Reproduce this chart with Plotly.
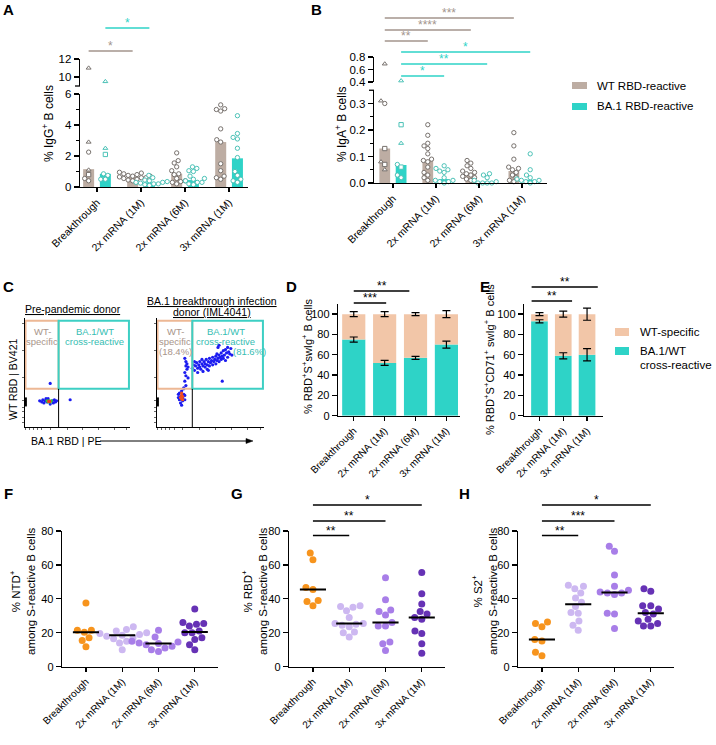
import math
import plotly.graph_objects as go

W, H = 716, 745
FONT = "Arial"

def fx(p):
    return p / W

def fy(p):
    return 1 - p / H

# ------------------------------------------------------------------ data
groups = ["Breakthrough", "2x mRNA (1M)", "2x mRNA (6M)", "3x mRNA (1M)"]
groups_e = ["Breakthrough", "2x mRNA (1M)", "3x mRNA (1M)"]

# Panel A  (% IgG+ B cells)
igg_wt_bar = [1.15, 0.65, 0.85, 2.9]
igg_ba1_bar = [0.85, 0.30, 0.45, 1.85]
igg_wt_pts = [
    [11.0, 2.9, 2.25, 1.1, 0.8, 0.55, 0.4],
    [0.95, 0.9, 0.85, 0.8, 0.75, 0.7, 0.65, 0.6, 0.55, 0.5, 0.45, 0.4, 0.6, 0.7],
    [2.2, 1.7, 1.55, 1.3, 1.05, 0.85, 0.8, 0.55, 0.4, 0.35, 0.3, 0.2],
    [5.3, 5.05, 5.0, 4.9, 3.75, 3.05, 2.9, 1.5, 1.05, 0.7, 0.6, 0.5],
]
igg_ba1_pts = [
    [9.5, 2.5, 2.1, 0.85, 0.75, 0.5, 0.5],
    [0.75, 0.6, 0.45, 0.4, 0.35, 0.3, 0.25, 0.2, 0.15, 0.1, 0.3, 0.2],
    [1.3, 1.2, 1.05, 1.0, 0.7, 0.55, 0.5, 0.4, 0.3, 0.3, 0.2, 0.15],
    [4.6, 3.45, 3.2, 3.1, 2.5, 1.9, 1.0, 0.75, 0.5, 0.4, 0.3],
]
igg_wt_bt_sym = ["triangle-up", "triangle-up", "circle", "triangle-up", "square", "circle", "circle"]
igg_ba1_bt_sym = ["triangle-up", "triangle-up", "square", "circle", "circle", "circle", "circle"]

# Panel B  (% IgA+ B cells)
iga_wt_bar = [0.13, 0.088, 0.04, 0.045]
iga_ba1_bar = [0.068, 0.015, 0.005, 0.012]
iga_wt_pts = [
    [0.69, 0.31, 0.30, 0.13, 0.08, 0.07, 0.05],
    [0.22, 0.18, 0.15, 0.14, 0.13, 0.11, 0.09, 0.085, 0.08, 0.06, 0.04, 0.03, 0.02, 0.01],
    [0.085, 0.075, 0.065, 0.055, 0.045, 0.04, 0.035, 0.03, 0.025, 0.02, 0.015, 0.01],
    [0.19, 0.14, 0.09, 0.06, 0.055, 0.05, 0.04, 0.03, 0.02, 0.01, 0.005],
]
iga_ba1_pts = [
    [0.42, 0.22, 0.15, 0.07, 0.06, 0.03, 0.02],
    [0.065, 0.055, 0.05, 0.045, 0.04, 0.02, 0.01, 0.005, 0.0, 0.005, 0.01],
    [0.035, 0.03, 0.02, 0.01, 0.005, 0.0, 0.0, 0.0, 0.0],
    [0.11, 0.05, 0.03, 0.02, 0.015, 0.01, 0.005, 0.0, 0.005, 0.01],
]
iga_wt_bt_sym = ["triangle-up", "triangle-up", "circle", "square", "triangle-up", "square", "triangle-up"]
iga_ba1_bt_sym = ["triangle-up", "square", "triangle-up", "circle", "square", "circle", "circle"]

# Panel C  (flow cytometry events, arbitrary 0-100 display units)
c_left_blue = [(14, 24), (16, 23), (17, 25), (18, 22), (19, 24), (20, 26), (21, 23), (26, 24), (27, 22),
               (28, 25), (29, 23), (30, 24), (24, 21), (22, 26), (24, 40), (43, 25)]
c_left_green = [(21, 24), (22, 23), (23, 24), (24, 23), (25, 24)]
c_left_red = [(22.5, 23.5), (23.5, 23.5)]
c_right_blue = [(26, 63), (27, 60), (27, 56), (28, 53), (26, 50), (27, 47), (29, 45), (26, 42), (27, 38),
                (25, 36), (28, 58), (29, 55),
                (33, 54), (34, 57), (35, 52), (36, 56), (37, 59), (38, 54), (38, 50), (39, 57), (40, 60),
                (40, 55), (41, 53), (42, 58), (43, 56), (43, 51), (44, 60), (45, 55), (45, 58), (46, 62),
                (47, 57), (47, 53), (48, 60), (49, 56), (49, 63), (50, 59), (51, 61), (52, 57), (52, 64),
                (53, 60), (54, 62), (55, 58), (55, 65), (56, 61), (56, 67), (57, 63), (58, 60), (58, 66),
                (59, 64), (60, 68), (60, 62), (61, 65), (62, 70), (62, 63), (63, 66), (64, 71), (64, 61),
                (65, 68), (66, 73), (66, 64), (67, 69), (68, 67), (69, 72), (70, 66), (58, 75), (57, 73),
                (48, 52), (42, 62), (35, 60), (61, 42),
                (20, 30), (21, 25), (22, 28), (23, 33), (24, 24), (25, 30), (22, 22), (24, 27), (26, 25),
                (21, 31), (25, 35), (23, 20), (26, 29), (20, 27)]
c_right_red = [(23, 26), (24, 28), (23, 29), (24, 25), (22, 27), (23, 31)]

# Panel D  (% of RBD+S+swIg+ B cells)
d_cross = [75, 52, 57, 70]
d_cross_err = [2.5, 2.5, 1.5, 3.5]
d_total_err = [2.5, 2.5, 1.5, 3.5]

# Panel E  (% of RBD+S+CD71+ swIg+ B cells)
e_cross = [93, 59, 60]
e_cross_err = [1.5, 3.0, 6.0]
e_total_err = [1.5, 3.0, 6.0]

# Panels F-H  (% among S-reactive B cells)
ntd = [
    [37.5, 21.5, 21.5, 20.3, 17, 15.5, 11.8],
    [23.5, 22, 21, 20, 19.5, 19, 18.5, 18, 17, 16.5, 15, 14, 10],
    [21.5, 17.5, 15, 14.5, 14, 13.7, 13, 12, 11, 10, 9],
    [34, 26, 25.5, 25, 24, 21, 20, 20, 17, 16, 13, 10],
]
rbd = [
    [67, 63, 46.7, 45.5, 39, 38.5, 36],
    [36, 35.5, 35, 33, 29, 25.5, 25.5, 25, 24.5, 23.5, 20.5, 20, 17.5],
    [52.5, 39.5, 33.5, 32.5, 30.5, 26, 24, 24, 14.5, 13.5, 9.5],
    [55.5, 43, 37, 32.5, 31, 29, 28, 21, 19.5, 13.5, 8],
]
s2 = [
    [26.3, 25.5, 23.5, 16, 15.2, 8.5, 6.5],
    [48, 47.5, 46, 43.5, 40.5, 38, 35.5, 32, 31.5, 27, 24.5, 21.5],
    [71, 68, 54, 47.5, 45, 44, 43.5, 43.5, 42.5, 31.5, 31, 22.5],
    [46, 44.5, 36, 36, 34, 32, 31, 28, 27, 25.5, 24, 24],
]

# significance brackets: (series, start, end, label)
sig_a = [("wt", 0, 1, "*"), ("ba1", 0, 1, "*")]
sig_b = [("wt", 0, 3, "***"), ("wt", 0, 2, "****"), ("wt", 0, 1, "**"),
         ("ba1", 0, 3, "*"), ("ba1", 0, 2, "**"), ("ba1", 0, 1, "*")]
sig_d = [(0, 1, "***"), (0, 2, "**")]
sig_e = [(0, 1, "**"), (0, 2, "**")]
sig_g = [(0, 1, "**"), (0, 2, "**"), (0, 3, "*")]
sig_h = [(0, 1, "**"), (0, 2, "***"), (0, 3, "*")]

# ------------------------------------------------------------------ style
WT_BAR = "#BDADA3"
BA_BAR = "#2ED3C7"
WT_DOT = "#77716D"
BA_DOT = "#4CC2B7"
WT_SIG = "#A3958D"
TEAL = "#2ED3C7"
PEACH = "#F2C6A8"
GCOL = ["#F7941D", "#CDB8F1", "#A87EE8", "#6632B5"]

fig = go.Figure()
shapes = []
anns = []


def ann(text, x, y, size=11, color="black", angle=0, xanchor="center", yanchor="middle",
        align="center", weight="normal", under=False):
    font = dict(family=FONT, size=size, color=color, weight=weight)
    if under:
        font["lineposition"] = "under"
    anns.append(dict(text=text, x=fx(x), y=fy(y), xref="paper", yref="paper",
                     showarrow=False, textangle=angle, xanchor=xanchor, yanchor=yanchor, align=align,
                     font=font))


def lines(texts, x, y0, step, **kw):
    for k, t in enumerate(texts):
        ann(t, x, y0 + k * step, **kw)


def swarm(vals, ppu, d):
    placed = []
    out = [0.0] * len(vals)
    for i in sorted(range(len(vals)), key=lambda k: vals[k]):
        y = vals[i] * ppu
        cands = [0.0]
        for yo, xo in placed:
            dy = abs(y - yo)
            if dy < d:
                dx = math.sqrt(d * d - dy * dy)
                cands += [xo + dx, xo - dx]
        cands.sort(key=lambda c: (abs(c), c))
        for c in cands:
            if all((c - xo) ** 2 + (y - yo) ** 2 >= d * d - 1e-6 for yo, xo in placed):
                out[i] = c
                break
        placed.append((y, out[i]))
    return out


def xax(x0, x1, rng, anchor, tickvals=None, ticktext=None, visible=True, size=10.5, labels=True):
    d = dict(domain=[fx(x0), fx(x1)], range=rng, anchor=anchor, showline=True, linecolor="black",
             linewidth=1.3, ticks="outside", ticklen=4, tickwidth=1.3, tickcolor="black", showgrid=False,
             zeroline=False, tickangle=-45, fixedrange=True, automargin=False, showticklabels=labels,
             tickfont=dict(family=FONT, size=size, color="black"))
    if tickvals is not None:
        d.update(tickmode="array", tickvals=tickvals)
        if ticktext is not None:
            d["ticktext"] = ticktext
    if not visible:
        d = dict(domain=[fx(x0), fx(x1)], range=rng, anchor=anchor, visible=False, fixedrange=True,
                 automargin=False)
    return d


def yax(top, bot, rng, anchor, tickvals, ticktext=None, minor=None, size=11.5, labels=True):
    d = dict(domain=[fy(bot), fy(top)], range=rng, anchor=anchor, showline=True, linecolor="black",
             linewidth=1.3, ticks="outside", ticklen=5, tickwidth=1.3, tickcolor="black", showgrid=False,
             zeroline=False, fixedrange=True, tickmode="array", tickvals=tickvals, automargin=False,
             showticklabels=labels,
             tickfont=dict(family=FONT, size=size, color="black"))
    if labels:
        d["ticktext"] = ticktext if ticktext is not None else [str(v) for v in tickvals]
    if minor is not None:
        d["minor"] = dict(tickmode="array", tickvals=minor, ticks="outside", ticklen=3, tickwidth=1.1,
                          tickcolor="black", showgrid=False)
    return d


def dotbar(xa_lo, ya_lo, xa_hi, ya_hi, wt_bar, ba1_bar, wt_pts, ba1_pts, wt_sym0, ba1_sym0,
           brk, ppu_lo, ppu_hi, hi_base, cat_px, off):
    series = [(wt_bar, wt_pts, wt_sym0, -off, WT_BAR, WT_DOT), (ba1_bar, ba1_pts, ba1_sym0, off, BA_BAR, BA_DOT)]
    for bars, pts, sym0, o, bcol, lcol in series:
        fig.add_trace(go.Bar(x=[i + o for i in range(len(bars))], y=bars, width=0.25,
                             marker=dict(color=bcol, line=dict(width=0)), xaxis=xa_lo, yaxis=ya_lo))
    for bars, pts, sym0, o, bcol, lcol in series:
        for i, vals in enumerate(pts):
            syms = sym0 if i == 0 else ["circle"] * len(vals)
            lo = [(v, s) for v, s in zip(vals, syms) if v <= brk]
            hi = [(v, s) for v, s in zip(vals, syms) if v > brk]
            for part, xa, ya, ppu, base in [(lo, xa_lo, ya_lo, ppu_lo, 0), (hi, xa_hi, ya_hi, ppu_hi, hi_base)]:
                if not part:
                    continue
                vv = [p[0] for p in part]
                offs = swarm([v - base for v in vv], ppu, 4.6)
                fig.add_trace(go.Scatter(
                    x=[i + o + q / cat_px for q in offs], y=vv, mode="markers", cliponaxis=False,
                    marker=dict(symbol=[p[1] for p in part], size=4.3, color="white",
                                line=dict(color=lcol, width=1)),
                    xaxis=xa, yaxis=ya))


def stacked(xa, ya, cross, cross_err, tot_err, width):
    xs = list(range(len(cross)))
    fig.add_trace(go.Bar(x=xs, y=cross, width=width, marker=dict(color=TEAL, line=dict(width=0)),
                         xaxis=xa, yaxis=ya))
    fig.add_trace(go.Bar(x=xs, y=[100 - c for c in cross], base=cross, width=width,
                         marker=dict(color=PEACH, line=dict(width=0)), xaxis=xa, yaxis=ya))
    fig.add_trace(go.Scatter(x=xs + xs, y=cross + [100] * len(cross), mode="markers",
                             marker=dict(size=1, opacity=0),
                             error_y=dict(type="data", array=cross_err + tot_err, color="black",
                                          thickness=1.2, width=4),
                             xaxis=xa, yaxis=ya))


def median(v):
    s = sorted(v)
    n = len(s)
    return s[n // 2] if n % 2 else (s[n // 2 - 1] + s[n // 2]) / 2


def dotplot(xa, ya, data, cat_px, ppu):
    for i, vals in enumerate(data):
        offs = swarm(vals, ppu, 7.3)
        fig.add_trace(go.Scatter(x=[i + q / cat_px for q in offs], y=vals, mode="markers", cliponaxis=False,
                                 marker=dict(size=7, color=GCOL[i], line=dict(width=0)),
                                 xaxis=xa, yaxis=ya))
        m = median(vals)
        shapes.append(dict(type="line", xref=xa, yref=ya, x0=i - 0.36, x1=i + 0.36, y0=m, y1=m,
                           line=dict(color="black", width=2)))


def sigline(xref, x0, x1, ypx, label, color, size=12):
    shapes.append(dict(type="line", xref=xref, yref="paper", x0=x0, x1=x1, y0=fy(ypx), y1=fy(ypx),
                       line=dict(color=color, width=1.6)))
    anns.append(dict(text=label, x=(x0 + x1) / 2, y=fy(ypx - 5), xref=xref, yref="paper", showarrow=False,
                     xanchor="center", yanchor="middle", font=dict(family=FONT, size=size, color=color)))


def cap(xpx, ypx):
    shapes.append(dict(type="line", xref="paper", yref="paper", x0=fx(xpx - 5), x1=fx(xpx), y0=fy(ypx),
                       y1=fy(ypx), line=dict(color="black", width=1.3)))


# ------------------------------------------------------------------ panel A
A_CAT = 44.0
dotbar("x", "y", "x2", "y2", igg_wt_bar, igg_ba1_bar, igg_wt_pts, igg_ba1_pts, igg_wt_bt_sym, igg_ba1_bt_sym,
       6, 93 / 6, 9.0, 9, A_CAT, 0.19)
A_Y = {"wt": 51, "ba1": 28}
for s, a, b, lab in sig_a:
    o = -0.19 if s == "wt" else 0.19
    sigline("x", a + o, b + o, A_Y[s], lab, WT_SIG if s == "wt" else TEAL)
cap(80, 86)

# ------------------------------------------------------------------ panel B
B_CAT = 43.0
dotbar("x3", "y3", "x4", "y4", iga_wt_bar, iga_ba1_bar, iga_wt_pts, iga_ba1_pts, iga_wt_bt_sym, iga_ba1_bt_sym,
       0.35, 265.0, 62.5, 0.4, B_CAT, 0.19)
B_Y = [18, 30, 41, 52, 64, 76]
for (s, a, b, lab), ypx in zip(sig_b, B_Y):
    o = -0.19 if s == "wt" else 0.19
    sigline("x3", a + o, b + o, ypx, lab, WT_SIG if s == "wt" else TEAL)
cap(374, 90.25)

# legend A/B
for (lab, col, ypx) in [("WT RBD-reactive", WT_BAR, 85.5), ("BA.1 RBD-reactive", BA_BAR, 106.5)]:
    shapes.append(dict(type="rect", xref="paper", yref="paper", x0=fx(572), x1=fx(587), y0=fy(ypx + 3.5),
                       y1=fy(ypx - 3.5), fillcolor=col, line=dict(width=0)))
    ann(lab, 595, ypx, size=11.5, xanchor="left")

# ------------------------------------------------------------------ panel C
for xa, ya, pts, col in [("x5", "y5", c_left_blue, "#1C1CF0"), ("x5", "y5", c_left_green, "#2FCB3A"),
                         ("x5", "y5", c_left_red, "#F03A1A"),
                         ("x6", "y6", c_right_blue, "#1C1CF0"), ("x6", "y6", c_right_red, "#F2501E")]:
    fig.add_trace(go.Scatter(x=[p[0] for p in pts], y=[p[1] for p in pts], mode="markers",
                             marker=dict(size=3.2, color=col, line=dict(width=0)), xaxis=xa, yaxis=ya))
# events piled on the axis
for xa, ya in [("x5", "y5"), ("x6", "y6")]:
    fig.add_trace(go.Scatter(x=[0.6, 0.6, 0.6, 0.6], y=[26, 24, 22, 20], mode="markers", cliponaxis=False,
                             marker=dict(size=2.5, color="black", symbol="square"), xaxis=xa, yaxis=ya))

for xa, ya, xs in [("x5", "y5", 32), ("x6", "y6", 33)]:
    shapes.append(dict(type="rect", xref=xa, yref=ya, x0=0.5, x1=xs, y0=35, y1=97.5,
                       line=dict(color="#EDB895", width=2)))
    shapes.append(dict(type="rect", xref=xa, yref=ya, x0=xs, x1=99, y0=35, y1=97.5,
                       line=dict(color="#3DCFC4", width=2)))
    shapes.append(dict(type="line", xref=xa, yref=ya, x0=xs, x1=xs, y0=0, y1=35,
                       line=dict(color="black", width=1)))

TAN_TXT = "#A8948A"
TEAL_TXT = "#35BDB2"
lines(["WT-", "specific"], 42, 331, 10, size=9.5, color=TAN_TXT)
lines(["BA.1/WT", "cross-reactive"], 94.5, 331, 10, size=9.5, color=TEAL_TXT)
lines(["WT-", "specific", "(18.4%)"], 175, 331, 10, size=9.5, color=TAN_TXT)
lines(["BA.1/WT", "cross-reactive"], 226, 331, 10, size=9.5, color=TEAL_TXT)
ann("(81.6%)", 249, 351, size=9.5, color=TEAL_TXT)
ann("Pre-pandemic donor", 73, 309, size=10.5, under=True)
ann("BA.1 breakthrough infection", 212, 301, size=10.5, under=True)
ann("donor (IML4041)", 212, 312, size=10.5, under=True)
ann("WT RBD | BV421", 13, 380, size=10.5, angle=-90)
ann("BA.1 RBD | PE", 29, 441, size=10.5, xanchor="left")
# arrow along the x axis of the flow plots
shapes.append(dict(type="line", xref="paper", yref="paper", x0=fx(100), x1=fx(247), y0=fy(441), y1=fy(441),
                   line=dict(color="black", width=1)))
shapes.append(dict(type="path", xref="paper", yref="paper",
                   path="M %f,%f L %f,%f L %f,%f Z" % (fx(253), fy(441), fx(246), fy(438.5), fx(246), fy(443.5)),
                   fillcolor="black", line=dict(color="black", width=0.5)))

# ------------------------------------------------------------------ panel D / E
stacked("x7", "y7", d_cross, d_cross_err, d_total_err, 0.75)
D_Y = [303, 291]
D_X1 = [1.05, 1.8]
for (a, b, lab), ypx, x1 in zip(sig_d, D_Y, D_X1):
    sigline("x7", a, x1, ypx, lab, "black")
stacked("x8", "y8", e_cross, e_cross_err, e_total_err, 0.7)
E_Y = [301, 287]
E_X = [(-0.33, 1.37), (-0.33, 2.45)]
for (a, b, lab), ypx, (x0, x1) in zip(sig_e, E_Y, E_X):
    sigline("x8", x0, x1, ypx, lab, "black")

for (lab, col, ypx) in [("WT-specific", PEACH, 332), ("BA.1/WT<br>cross-reactive", TEAL, 351)]:
    shapes.append(dict(type="rect", xref="paper", yref="paper", x0=fx(615), x1=fx(629), y0=fy(ypx + 4),
                       y1=fy(ypx - 4), fillcolor=col, line=dict(width=0)))
ann("WT-specific", 638, 332, size=11.5, xanchor="left")
lines(["BA.1/WT", "cross-reactive"], 638, 351, 13.5, size=11.5, xanchor="left")

# ------------------------------------------------------------------ panels F, G, H
FGH_CAT = 156 / 4.3
FGH_PPU = 135.6 / 80
dotplot("x9", "y9", ntd, FGH_CAT, FGH_PPU)
dotplot("x10", "y10", rbd, FGH_CAT, FGH_PPU)
dotplot("x11", "y11", s2, FGH_CAT, FGH_PPU)
SIG_Y = [535.5, 521, 505]
for (a, b, lab), ypx in zip(sig_g, SIG_Y):
    sigline("x10", a, b, ypx, lab, "black")
for (a, b, lab), ypx in zip(sig_h, SIG_Y):
    sigline("x11", a, b, ypx, lab, "black")

# ------------------------------------------------------------------ axis titles & panel letters
ann("% IgG<sup>+</sup> B cells", 48, 124, size=12, angle=-90)
ann("% IgA<sup>+</sup> B cells", 341, 124, size=12, angle=-90)
ann("% RBD<sup>+</sup>S<sup>+</sup>swIg<sup>+</sup> B cells", 307, 357, size=11, angle=-90)
ann("% RBD<sup>+</sup>S<sup>+</sup>CD71<sup>+</sup> swIg<sup>+</sup> B cells", 489, 359, size=11, angle=-90)
ann("% NTD<sup>+</sup><br>among S-reactive B cells", 22, 592, size=11.5, angle=-90)
ann("% RBD<sup>+</sup><br>among S-reactive B cells", 254, 592, size=11.5, angle=-90)
ann("% S2<sup>+</sup><br>among S-reactive B cells", 484, 592, size=11.5, angle=-90)
for lab, x, y in [("A", 8, 9), ("B", 316, 9), ("C", 8, 287), ("D", 291, 287), ("E", 485, 286),
                  ("F", 8, 494), ("G", 237, 494), ("H", 464, 494)]:
    ann(lab, x, y, size=15, weight="bold")

# ------------------------------------------------------------------ layout
tick4 = [0, 1, 2, 3]
c_xt = [0, 4, 8, 12, 16, 24, 40, 55, 70, 85, 97]
c_yt = [4, 9, 14, 18, 24, 45, 70, 95]
layout = dict(
    width=W, height=H, margin=dict(l=0, r=0, t=0, b=0, autoexpand=False), paper_bgcolor="white",
    plot_bgcolor="white",
    showlegend=False, barmode="overlay", font=dict(family=FONT, color="black"),
    xaxis=xax(80, 248, [-0.386, 3.43], "y", tick4, groups),
    yaxis=yax(94, 187, [0, 6], "x", [0, 2, 4, 6], minor=[1, 3, 5]),
    xaxis2=xax(80, 248, [-0.386, 3.43], "y2", visible=False),
    yaxis2=yax(59, 86, [9, 12], "x2", [10, 12], ["10", "12"]),
    xaxis3=xax(374, 547, [-0.44, 3.58], "y3", tick4, groups),
    yaxis3=yax(90.25, 183, [0, 0.35], "x3", [0, 0.1, 0.2, 0.3], ["0.0", "0.1", "0.2", "0.3"],
               minor=[0.05, 0.15, 0.25]),
    xaxis4=xax(374, 547, [-0.44, 3.58], "y4", visible=False),
    yaxis4=yax(57, 82, [0.4, 0.8], "x4", [0.4, 0.6, 0.8], ["0.4", "0.6", "0.8"]),
    xaxis5=xax(25, 130, [0, 100], "y5", c_xt, labels=False),
    yaxis5=yax(318, 427, [0, 100], "x5", c_yt, labels=False),
    xaxis6=xax(157, 264, [0, 100], "y6", c_xt, labels=False),
    yaxis6=yax(318, 427, [0, 100], "x6", c_yt, labels=False),
    xaxis7=xax(338, 460, [-0.51, 3.44], "y7", tick4, groups, size=10),
    yaxis7=yax(304, 415.7, [0, 110], "x7", [0, 20, 40, 60, 80, 100], size=11),
    xaxis8=xax(524, 603, [-0.65, 2.67], "y8", [0, 1, 2], groups_e, size=10),
    yaxis8=yax(304, 415.7, [0, 110], "x8", [0, 20, 40, 60, 80, 100], size=11),
    xaxis9=xax(62, 218, [-0.66, 3.64], "y9", tick4, groups, size=10),
    yaxis9=yax(531, 666.7, [0, 80], "x9", [0, 20, 40, 60, 80], size=11),
    xaxis10=xax(289, 445, [-0.66, 3.64], "y10", tick4, groups, size=10),
    yaxis10=yax(531, 666.7, [0, 80], "x10", [0, 20, 40, 60, 80], size=11),
    xaxis11=xax(518, 674, [-0.66, 3.64], "y11", tick4, groups, size=10),
    yaxis11=yax(531, 666.7, [0, 80], "x11", [0, 20, 40, 60, 80], size=11),
    shapes=shapes, annotations=anns,
)
for k in ["xaxis5", "xaxis6", "yaxis5", "yaxis6"]:
    layout[k].update(ticklen=2, tickwidth=0.8, linewidth=1, tickcolor="#444444")
fig.update_layout(**layout)
fig.write_html("out.html", config={"displayModeBar": False, "staticPlot": True},
               post_script="document.body.style.margin='0px';document.body.style.padding='0px';")
